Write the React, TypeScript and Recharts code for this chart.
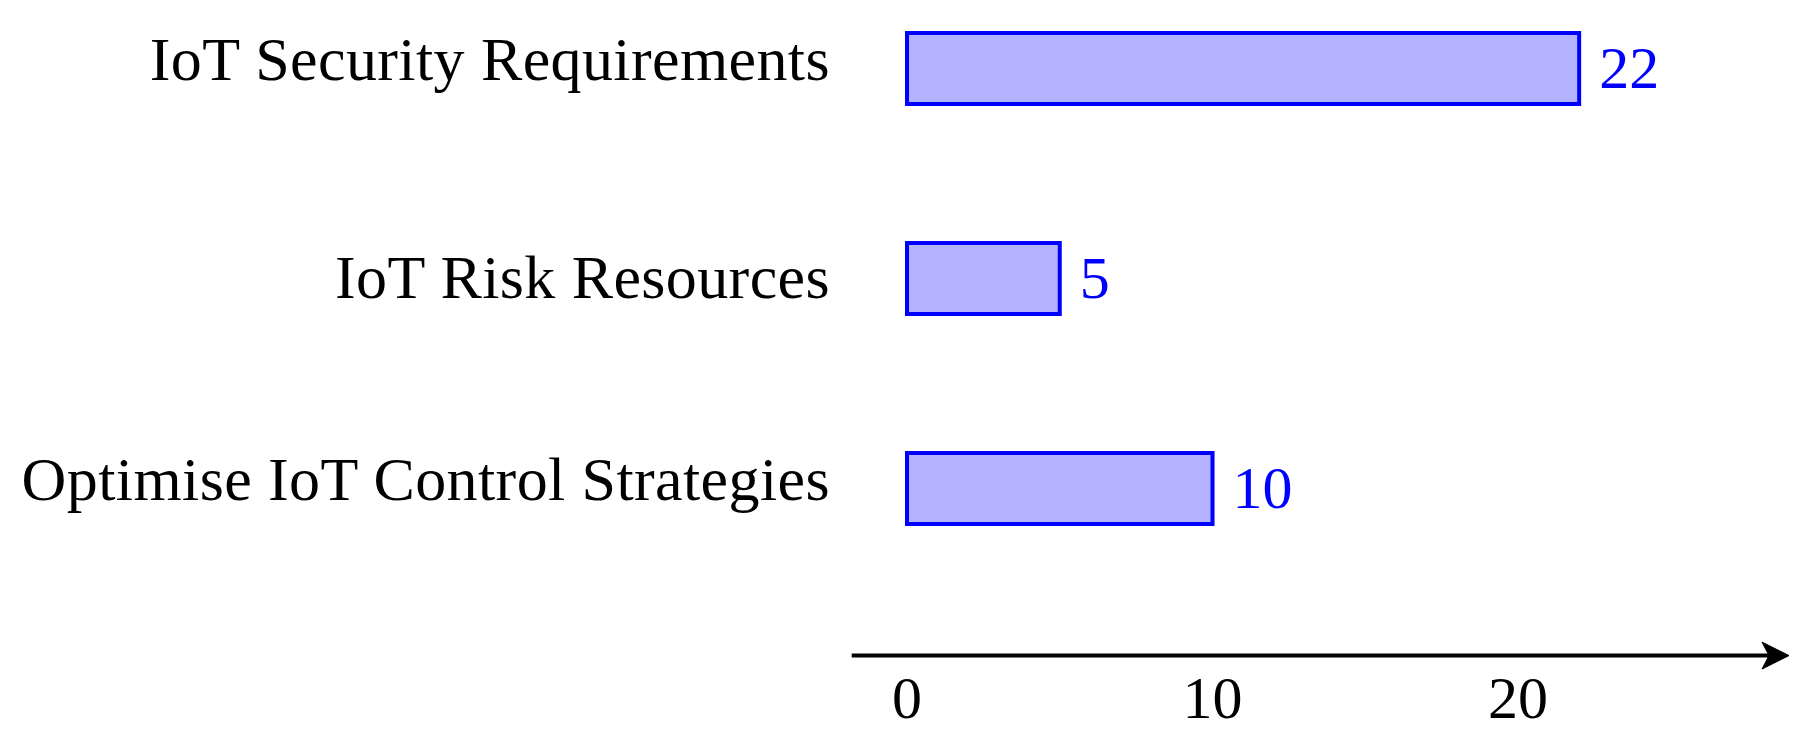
import React from 'react';
import { BarChart, Bar, XAxis, YAxis, LabelList } from 'recharts';

const categories = ['IoT Security Requirements', 'IoT Risk Resources', 'Optimise IoT Control Strategies'];
const counts = [22, 5, 10];
const xTicks = [0, 10, 20];

const data = categories.map((name, i) => ({ name, value: counts[i] }));

const FONT = '"Liberation Serif", "DejaVu Serif", serif';

const YTick = (props: any) => {
  const { x, y, payload } = props;
  const label: string = payload.value;
  const hasDesc = /[gjpqy]/.test(label);
  return (
    <text x={x} y={y + (hasDesc ? 11.6 : 19.6)} textAnchor="end" fontFamily={FONT} fontSize={62} letterSpacing={0.4} fill="#000">
      {label}
    </text>
  );
};

const XTick = (props: any) => {
  const { x, y, payload } = props;
  return (
    <text x={x} y={y + 62} textAnchor="middle" fontFamily={FONT} fontSize={60} fill="#000">
      {payload.value}
    </text>
  );
};

const ArrowHead = (props: any) => {
  const vb = props.viewBox || {};
  const tip = vb.x + vb.width + 14;
  const y = vb.y;
  const pts = `${tip},${y} ${tip - 27},${y - 13.5} ${tip - 20},${y} ${tip - 27},${y + 13.5}`;
  return <polygon points={pts} fill="#000" stroke="#000" strokeWidth={1} strokeLinejoin="miter" />;
};

const ValueLabel = (props: any) => {
  const { x, y, width, height, value } = props;
  return (
    <text x={x + width + 20} y={y + height / 2 + 20} fontFamily={FONT} fontSize={60} fill="#0000ff">
      {value}
    </text>
  );
};

export default function App() {
  return (
    <div style={{ position: 'relative', left: -8, top: -44.6, width: 1810, height: 778.6 }}>
      <BarChart
        width={1810}
        height={778.6}
        data={data}
        layout="vertical"
        margin={{ top: 0, right: 35, bottom: 26, left: 0 }}
      >
        <XAxis
          type="number"
          domain={[-1.81, 28.41]}
          allowDataOverflow
          ticks={xTicks}
          tickLine={false}
          tickSize={0}
          tickMargin={0}
          height={60}
          axisLine={{ stroke: '#000', strokeWidth: 4 }}
          tick={<XTick />}
          label={<ArrowHead />}
        />
        <YAxis
          type="category"
          dataKey="name"
          width={851.7}
          axisLine={false}
          tickLine={false}
          tickSize={0}
          tickMargin={21.7}
          padding={{ top: 0, bottom: 62.6 }}
          tick={<YTick />}
          interval={0}
        />
        <Bar
          dataKey="value"
          barSize={71}
          fill="#b3b3ff"
          stroke="#0000ff"
          strokeWidth={4}
          isAnimationActive={false}
        >
          <LabelList dataKey="value" content={<ValueLabel />} />
        </Bar>
      </BarChart>
    </div>
  );
}
